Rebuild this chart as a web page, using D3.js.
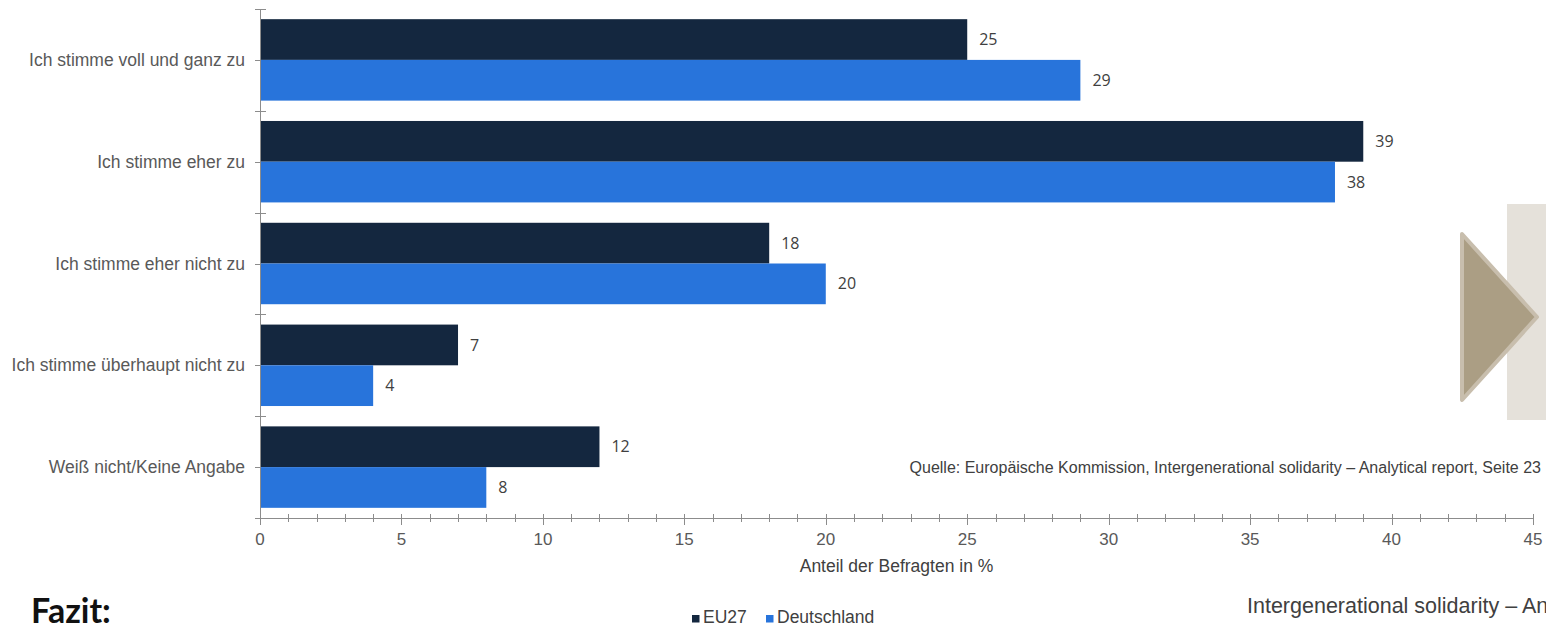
<!DOCTYPE html>
<html>
<head>
<meta charset="utf-8">
<script src="https://cdn.jsdelivr.net/npm/d3@7"></script>
<style>
  html, body { margin: 0; padding: 0; background: #fff; overflow: hidden; }
  svg { display: block; }
</style>
</head>
<body>
<svg id="chart" width="1546" height="627"></svg>
<script>
// Survey answers (categories, top to bottom)
const categories = [
  "Ich stimme voll und ganz zu",
  "Ich stimme eher zu",
  "Ich stimme eher nicht zu",
  "Ich stimme überhaupt nicht zu",
  "Weiß nicht/Keine Angabe"
];
const seriesNames = ["EU27", "Deutschland"];
const valuesEU27 = [25, 39, 18, 7, 12];
const valuesDeutschland = [29, 38, 20, 4, 8];
const xTicks = [0, 5, 10, 15, 20, 25, 30, 35, 40, 45];
const colors = { "EU27": "#14273f", "Deutschland": "#2874db" };

const svg = d3.select("#chart");
const plotLeft = 260, plotRight = 1533, plotTop = 9, plotBottom = 518;
const sans = "Arial, 'Liberation Sans', sans-serif";

const x = d3.scaleLinear().domain([0, 45]).range([plotLeft, plotRight]);
const y = d3.scaleBand().domain(categories).range([plotTop, plotBottom]).paddingInner(0).paddingOuter(0);
const ySeries = d3.scaleBand().domain(seriesNames).range([0, y.bandwidth()]).paddingInner(0).paddingOuter(0.25);

const rows = categories.map((c, i) => ({
  category: c,
  values: [
    { series: "EU27", value: valuesEU27[i] },
    { series: "Deutschland", value: valuesDeutschland[i] }
  ]
}));

// Bars
const groups = svg.append("g").selectAll("g").data(rows).join("g")
  .attr("transform", d => `translate(0,${y(d.category)})`);

groups.selectAll("rect").data(d => d.values).join("rect")
  .attr("x", x(0))
  .attr("y", d => ySeries(d.series))
  .attr("width", d => x(d.value) - x(0))
  .attr("height", ySeries.bandwidth())
  .attr("fill", d => colors[d.series]);

// Value labels
groups.selectAll("text").data(d => d.values).join("text")
  .attr("x", d => x(d.value) + 12)
  .attr("y", d => ySeries(d.series) + ySeries.bandwidth() / 2)
  .attr("dy", "0.35em")
  .attr("font-family", "'Open Sans', sans-serif")
  .attr("font-size", 16)
  .attr("fill", "#404040")
  .text(d => d.value);

// X axis with major ticks every 5 and minor ticks every 1
const axisColor = "#8c8c8c";
const xAxis = svg.append("g");
xAxis.append("line")
  .attr("x1", x(0)).attr("x2", x(45))
  .attr("y1", plotBottom + 0.5).attr("y2", plotBottom + 0.5)
  .attr("stroke", axisColor);
xAxis.selectAll("line.minor").data(d3.range(0, 46)).join("line")
  .attr("class", "minor")
  .attr("x1", d => Math.round(x(d)) + 0.5).attr("x2", d => Math.round(x(d)) + 0.5)
  .attr("y1", plotBottom - 4).attr("y2", d => xTicks.includes(d) ? plotBottom + 7 : plotBottom + 4)
  .attr("stroke", axisColor);
xAxis.selectAll("text").data(xTicks).join("text")
  .attr("x", d => x(d))
  .attr("y", plotBottom + 27)
  .attr("text-anchor", "middle")
  .attr("font-family", sans)
  .attr("font-size", 17)
  .attr("fill", "#595959")
  .text(d => d);

svg.append("text")
  .attr("x", (x(0) + x(45)) / 2)
  .attr("y", 572)
  .attr("text-anchor", "middle")
  .attr("font-family", sans)
  .attr("font-size", 17.5)
  .attr("fill", "#404040")
  .text("Anteil der Befragten in %");

// Y axis
const yAxis = svg.append("g");
yAxis.append("line")
  .attr("x1", plotLeft + 0.5).attr("x2", plotLeft + 0.5)
  .attr("y1", plotTop).attr("y2", plotBottom + 4)
  .attr("stroke", axisColor);
const bounds = categories.map(c => y(c)).concat([plotBottom]);
yAxis.selectAll("line.b").data(bounds).join("line")
  .attr("class", "b")
  .attr("x1", plotLeft - 5).attr("x2", plotLeft + 6)
  .attr("y1", d => Math.round(d) + 0.5).attr("y2", d => Math.round(d) + 0.5)
  .attr("stroke", axisColor);
yAxis.selectAll("line.c").data(categories).join("line")
  .attr("class", "c")
  .attr("x1", plotLeft - 5).attr("x2", plotLeft)
  .attr("y1", d => Math.round(y(d) + y.bandwidth() / 2) + 0.5)
  .attr("y2", d => Math.round(y(d) + y.bandwidth() / 2) + 0.5)
  .attr("stroke", axisColor);
yAxis.selectAll("text").data(categories).join("text")
  .attr("x", plotLeft - 15)
  .attr("y", d => y(d) + y.bandwidth() / 2)
  .attr("dy", "0.35em")
  .attr("text-anchor", "end")
  .attr("font-family", sans)
  .attr("font-size", 17.5)
  .attr("fill", "#595959")
  .text(d => d);

// Source note
svg.append("text")
  .attr("x", 1541).attr("y", 473)
  .attr("text-anchor", "end")
  .attr("font-family", sans)
  .attr("font-size", 16)
  .attr("fill", "#404040")
  .text("Quelle: Europäische Kommission, Intergenerational solidarity – Analytical report, Seite 23");

// Legend
const legend = svg.append("g").attr("font-family", sans).attr("font-size", 17.5).attr("fill", "#404040");
const legendItems = [{ name: "EU27", x: 692 }, { name: "Deutschland", x: 766 }];
legend.selectAll("rect").data(legendItems).join("rect")
  .attr("x", d => d.x).attr("y", 615).attr("width", 7.5).attr("height", 7.5)
  .attr("fill", d => colors[d.name]);
legend.selectAll("text").data(legendItems).join("text")
  .attr("x", d => d.x + 11).attr("y", 623)
  .text(d => d.name);

// Slide furniture
svg.append("text")
  .attr("x", 31).attr("y", 623)
  .attr("font-family", "Lato, 'Open Sans', sans-serif")
  .attr("font-weight", "bold")
  .attr("font-size", 34)
  .attr("fill", "#111")
  .text("Fazit:");

svg.append("text")
  .attr("x", 1247).attr("y", 613)
  .attr("font-family", sans)
  .attr("font-size", 21.5)
  .attr("fill", "#404040")
  .text("Intergenerational solidarity – Analytical report");

svg.append("rect")
  .attr("x", 1507).attr("y", 204).attr("width", 39).attr("height", 216)
  .attr("fill", "#e5e1da");
svg.append("path")
  .attr("d", "M1462,234 L1537,317 L1462,400 Z")
  .attr("fill", "#ab9e84")
  .attr("stroke", "#c8bead")
  .attr("stroke-width", 4)
  .attr("stroke-linejoin", "round");
</script>
</body>
</html>
